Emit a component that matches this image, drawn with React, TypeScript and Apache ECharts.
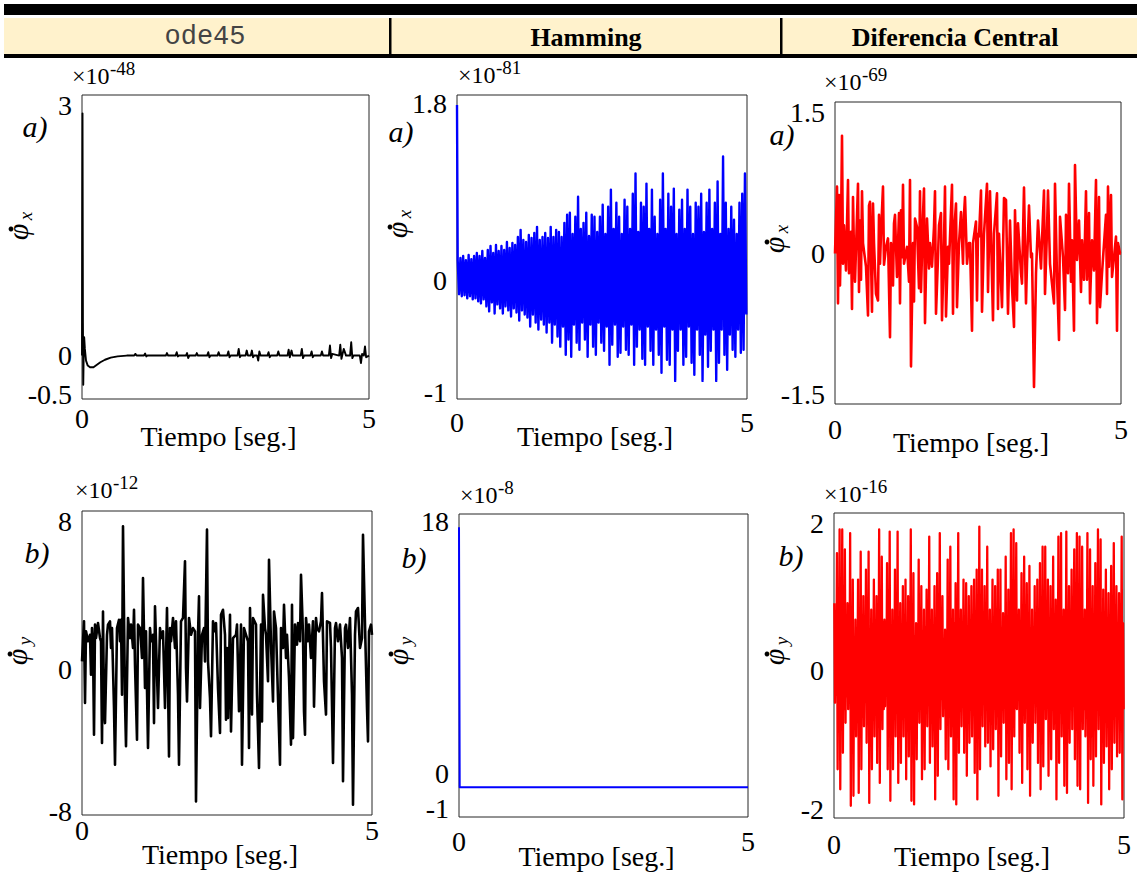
import React, { useEffect, useRef } from "react";
import * as echarts from "echarts";

const SERIF = "'Liberation Serif', 'Times New Roman', serif";
const MONO = "'Liberation Mono', 'Courier New', monospace";

// ---- shared time axis (seconds) ----
const TIME_MIN = 0;
const TIME_MAX = 5;
const TIME_TICK_STEP = 5;
const TIME_LABEL = "Tiempo [seg.]";

// ---- column headers ----
const METHODS = ["ode45", "Hamming", "Diferencia Central"];

// ---- y tick labels per panel ----
const TICKS_ODE45_X = [-0.5, 0, 3];
const TICKS_HAMMING_X = [-1, 0, 1.8];
const TICKS_DC_X = [-1.5, 0, 1.5];
const TICKS_ODE45_Y = [-8, 0, 8];
const TICKS_HAMMING_Y = [-1, 0, 18];
const TICKS_DC_Y = [-2, 0, 2];

// ---- exponents of the y scales ----
const EXPONENTS = ["-48", "-81", "-69", "-12", "-8", "-16"];

// ---- ode45, angular rate x  [t (s), value x1e-48] ----
const ODE45_PHIX: [number, number][] = [
  [0, 0], [0.004, 1.6], [0.009, 2.9], [0.016, 0.4], [0.022, -0.35], [0.03, 0.05], [0.038, 0.22],
  [0.05, 0.08], [0.07, -0.06], [0.1, -0.12], [0.14, -0.14], [0.2, -0.14], [0.26, -0.11], [0.32, -0.08],
  [0.4, -0.05], [0.5, -0.025], [0.62, -0.01], [0.78, 0],
  [0.91, 0], [0.93, 0.02], [0.95, 0], [1.08, 0], [1.1, 0.025], [1.12, -0.01], [1.14, 0],
  [1.46, 0], [1.48, 0.03], [1.5, 0], [1.63, 0], [1.65, 0.04], [1.67, -0.01], [1.69, 0],
  [1.81, 0], [1.83, 0.03], [1.85, -0.03], [1.87, 0], [1.98, 0], [2.0, 0.03], [2.02, 0],
  [2.18, 0], [2.2, 0.04], [2.22, -0.02], [2.24, 0], [2.36, 0], [2.38, 0.04], [2.4, 0],
  [2.53, 0], [2.55, 0.05], [2.57, -0.02], [2.59, 0], [2.71, 0], [2.73, 0.08], [2.75, -0.02], [2.77, 0],
  [2.85, 0], [2.87, 0.06], [2.89, 0], [2.94, 0], [2.96, 0.06], [2.98, -0.02], [3.0, 0],
  [3.05, 0], [3.07, -0.06], [3.09, 0.05], [3.11, 0], [3.23, 0], [3.25, 0.04], [3.27, -0.02], [3.29, 0],
  [3.4, 0], [3.42, 0.05], [3.44, 0], [3.58, 0], [3.6, 0.07], [3.62, -0.02], [3.65, 0.06], [3.67, 0],
  [3.81, 0], [3.83, 0.08], [3.85, -0.03], [3.87, 0], [3.98, 0], [4.0, 0.05], [4.02, -0.02], [4.04, 0],
  [4.16, 0], [4.18, 0.05], [4.2, 0], [4.3, 0], [4.32, 0.12], [4.34, -0.03], [4.36, 0.02],
  [4.48, 0], [4.5, 0.13], [4.52, -0.04], [4.56, 0.08], [4.6, 0], [4.67, 0], [4.69, 0.16], [4.71, -0.03], [4.73, 0],
  [4.84, 0], [4.86, -0.09], [4.88, 0.02], [4.91, 0], [4.93, 0.11], [4.95, -0.02], [5.0, 0],
];

// ---- Hamming, angular rate x (x1e-81): start value, then peak / trough envelopes ----
const HAMMING_PHIX_START = 1.78;
const HAMMING_PHIX_UPPER = [
  0.24, 0.26, 0.28, 0.24, 0.29, 0.25, 0.28, 0.31, 0.28, 0.33, 0.26, 0.34, 0.38, 0.31, 0.39, 0.33, 0.38, 0.34, 0.42, 0.36, 0.41,
  0.39, 0.47, 0.54, 0.44, 0.42, 0.49, 0.46, 0.51, 0.57, 0.44, 0.47, 0.51, 0.46, 0.57, 0.47, 0.54, 0.52, 0.47, 0.61,
  0.69, 0.71, 0.5, 0.67, 0.87, 0.55, 0.61, 0.71, 0.48, 0.69, 0.67, 0.52, 0.67, 0.79, 0.5, 0.77, 0.94, 0.55, 0.81, 0.67,
  0.5, 0.84, 0.77, 0.55, 0.9, 1.1, 0.52, 0.81, 0.77, 1.0, 0.55, 0.94, 0.67, 0.5, 0.84, 1.1, 0.55, 0.9, 0.77, 0.95,
  0.5, 0.74, 0.84, 0.55, 0.94, 0.77, 0.5, 0.81, 0.77, 0.9, 0.52, 0.81, 0.94, 0.55, 0.81, 1.02, 0.5, 1.27, 0.81, 0.55,
  0.77, 0.64, 0.5, 0.81, 0.9, 1.1,
];
const HAMMING_PHIX_LOWER = [
  -0.1, -0.12, -0.11, -0.14, -0.12, -0.15, -0.14, -0.17, -0.19, -0.15, -0.22, -0.27, -0.18, -0.29, -0.2, -0.24, -0.29, -0.22, -0.26, -0.32, -0.24,
  -0.28, -0.36, -0.26, -0.3, -0.33, -0.42, -0.3, -0.38, -0.45, -0.35, -0.4, -0.48, -0.38, -0.58, -0.4, -0.52, -0.62, -0.42, -0.7,
  -0.55, -0.72, -0.4, -0.58, -0.65, -0.38, -0.55, -0.72, -0.4, -0.62, -0.7, -0.38, -0.58, -0.66, -0.42, -0.8, -0.6, -0.4, -0.72, -0.68,
  -0.42, -0.65, -0.7, -0.4, -0.8, -0.62, -0.45, -0.74, -0.8, -0.42, -0.66, -0.8, -0.45, -0.7, -0.88, -0.42, -0.75, -0.8, -0.45, -0.96,
  -0.66, -0.45, -0.8, -0.72, -0.42, -0.78, -0.9, -0.45, -0.7, -0.96, -0.5, -0.82, -0.66, -0.45, -0.96, -0.78, -0.45, -0.7, -0.85, -0.5,
  -0.65, -0.72, -0.45, -0.68, -0.65, -0.3,
];

// ---- central difference, angular rate x  [sample, value x1e-69] ----
const DC_PHIX_STEP = 5 / 286;
const DC_PHIX: [number, number][] = [
  [0, 0], [2, 0.71], [3, -0.53], [4, 0.62], [5, -0.34], [6, 0.25], [7, 1.25], [8, -0.11], [9, 0.3], [11, -0.18],
  [13, 0.78], [14, -0.21], [16, 0.23], [17, -0.59], [18, 0.6], [19, 0], [20, -0.3], [23, 0.74], [24, -0.41], [25, 0.35],
  [26, -0.28], [27, 0.66], [28, 0.11], [31, -0.14], [33, -0.66], [34, 0.51], [35, 0.55], [37, -0.62], [38, 0.53], [39, 0.11],
  [41, -0.43], [43, -0.5], [44, 0.41], [45, -0.11], [46, 0.21], [48, 0.71], [49, -0.12], [51, 0.07], [53, 0.16], [55, -0.89],
  [56, 0.11], [58, -0.34], [59, 0.32], [60, 0.41], [62, -0.25], [64, 0.43], [65, -0.53], [66, 0.46], [67, -0.04], [68, 0.73],
  [69, -0.11], [72, 0.07], [74, -0.3], [75, 0.78], [76, -1.2], [78, 0.11], [79, -0.51], [80, 0.37], [82, 0.28], [84, -0.37],
  [85, 0.66], [86, -0.41], [88, 0.41], [89, 0.69], [90, -0.74], [92, 0.37], [94, -0.16], [95, 0.11], [97, -0.14], [99, 0.28],
  [100, 0.66], [101, -0.64], [103, -0.04], [104, 0.3], [106, 0.43], [107, -0.71], [109, 0.12], [110, 0.71], [111, -0.67], [113, 0.07],
  [114, -0.11], [117, 0.73], [118, -0.64], [119, 0.21], [121, 0.53], [122, -0.57], [124, 0.11], [126, 0.44], [128, -0.11], [129, 0.41],
  [130, 0.6], [132, -0.11], [134, 0.11], [135, 0.11], [137, -0.82], [138, 0.11], [141, 0.34], [142, -0.5], [143, 0.21],
  [144, 0.18], [146, 0.67], [147, -0.62], [149, 0.21], [152, 0.74], [153, -0.41], [155, 0.66], [158, -0.71], [159, 0.21], [162, 0.64],
  [163, -0.59], [164, 0.21], [167, -0.57], [169, 0.59], [171, 0.57], [173, -0.64], [175, 0.35], [177, -0.35], [179, -0.78], [180, 0.46],
  [182, -0.5], [183, 0.32], [186, -0.21], [187, -0.32], [189, 0.7], [191, -0.53], [192, -0.11], [194, 0.51], [196, -0.04], [197, 0],
  [199, -1.42], [201, -0.21], [203, 0.35], [206, -0.16], [207, 0.14], [209, 0.67], [210, -0.43], [212, 0.25], [213, 0.67], [215, -0.11],
  [219, -0.53], [220, 0.74], [222, -0.25], [224, -0.92], [225, 0.39], [228, -0.04], [230, -0.6], [231, 0.41], [233, -0.21], [234, 0.74],
  [236, -0.3], [237, 0.14], [239, -0.82], [240, 0.94], [242, -0.07], [244, 0.35], [246, -0.41], [247, 0.14], [249, -0.28], [251, 0.66],
  [252, -0.28], [254, 0.43], [255, -0.53], [257, 0.14], [259, -0.18], [261, 0.78], [262, -0.74], [264, 0.6], [265, -0.57], [267, -0.21],
  [271, 0.41], [272, -0.43], [273, 0.71], [274, -0.14], [276, 0.62], [277, -0.25], [279, -0.04], [281, 0.18], [282, -0.82], [283, 0.11],
  [285, 0], [286, 0],
];

// ---- ode45, angular rate y  [sample, value x1e-12] ----
const ODE45_PHIY_STEP = 5 / 290;
const ODE45_PHIY: [number, number][] = [
  [0, 0.29], [2, 2.5], [3, -2.01], [4, 1.95], [6, 1.4], [8, 1.76], [9, -0.45], [10, 2.13], [11, 1.21], [12, -3.76],
  [13, 2.32], [14, 1.58], [16, 2.41], [18, 1.58], [19, 1.4], [20, -4.22], [21, 3.05], [22, -2.29], [23, -3.12], [25, 1.76],
  [26, 2.32], [28, 2.5], [29, 1.03], [30, 2.13], [32, -2.29], [33, -5.42], [35, 2.13], [37, 2.59], [38, 1.4], [39, 2.59],
  [40, -1.55], [41, 7.75], [43, -1.92], [44, -4.4], [46, 2.69], [48, 1.58], [49, 2.32], [51, 1.03], [52, 3.14], [53, 0.11],
  [55, -4.04], [56, 2.32], [58, 2.13], [59, 1.4], [60, 0.48], [61, 4.89], [63, -1.18], [64, 1.95], [66, -4.5], [68, 2.13],
  [69, 1.4], [71, 1.76], [72, -3.12], [73, 3.33], [75, -0.45], [76, -2.29], [78, 2.13], [79, 1.58], [81, 1.95], [83, -2.29],
  [85, 3.24], [87, -4.96], [88, 2.13], [89, 1.4], [91, 2.69], [93, 1.03], [94, 2.5], [96, -1.55], [97, -5.42], [99, 2.5],
  [101, 2.69], [103, 5.82], [104, -0.08], [105, -1.92], [107, 2.69], [109, 1.76], [111, 2.13], [113, 1.95], [114, -7.45], [116, 1.76],
  [117, 3.88], [118, -2.29], [120, 1.76], [122, 2.13], [123, 0.29], [125, 7.57], [126, 0.29], [128, -1.74], [129, -3.85], [131, 2.5],
  [133, 1.95], [134, 2.41], [136, -1.18], [138, -3.67], [139, 2.87], [141, 3.14], [143, 1.76], [144, -2.93],
  [145, 1.03], [146, -2.84], [148, 2.87], [149, -3.58], [151, 1.58], [154, 1.76], [155, 2.32], [157, -2.47], [159, 2.32], [160, -5.42],
  [162, 2.13], [164, 1.76], [166, 1.4], [167, -4.5], [168, 3.24], [170, -2.65], [171, 2.69], [174, 2.32], [175, -1.55], [177, -5.6],
  [179, 2.32], [180, -3.03], [181, 3.97], [183, 2.13], [184, 1.76], [186, -0.81], [187, 5.91], [189, 1.21], [191, -1.92], [192, 3.05],
  [194, 2.13], [196, -1.74], [198, -5.42], [199, 2.13], [201, 1.03], [202, 3.42], [204, 0.48], [205, 1.76], [207, -0.63], [209, -4.31],
  [210, 3.42], [211, -3.95], [213, 2.32], [215, 1.21], [216, 2.41], [218, 1.4], [219, 5.08], [221, 1.76], [222, -2.47], [223, -3.76],
  [224, 2.69], [226, 1.4], [227, 2.32], [229, 0.48], [231, 2.5], [232, -2.21], [234, 2.69], [235, 2.13], [237, 1.95], [239, 2.5],
  [240, 4.07], [242, -0.81], [244, -2.65], [245, 2.5], [248, 2.41], [249, 1.03], [251, -5.33], [253, 2.13], [254, 2.41], [256, 1.4],
  [258, 2.32], [260, 0.48], [261, -6.33], [263, 2.13], [264, 2.32], [266, 1.03], [268, 2.69], [270, -1.55], [271, -7.63], [273, 1.76],
  [274, 3.05], [276, 3.24], [278, 1.03], [280, 1.58], [281, 7.29], [283, 2.32], [285, -2.29], [286, -4.13], [287, 1.95], [289, 2.32],
  [290, 1.76],
];

// ---- Hamming, angular rate y  [t (s), value x1e-8] ----
const HAMMING_PHIY: [number, number][] = [
  [0, 17.6], [0.012, -1], [5, -1],
];

// ---- central difference, angular rate y (x1e-16): peaks / troughs, each followed by a small swing ----
const DC_PHIY_UPPER = [
  0.88, 0.42, 1.58, 0.55, 1.91, 0.38, 1.91, 0.6, 1.63, 0.45, 0.88, 0.35, 1.86, 0.52, 1.21, 0.4, 0.65, 0.3, 1.21, 0.48,
  1.6, 0.36, 0.98, 0.58, 1.35, 0.4, 1.6, 0.5, 0.79, 0.33, 1.21, 0.46, 0.98, 0.55, 1.91, 0.38, 1.53, 0.62, 0.65, 0.3,
  1.44, 0.44, 1.88, 0.5, 0.79, 0.36, 1.35, 0.57, 1.88, 0.4, 0.88, 0.34, 1.12, 0.52, 1.21, 0.45, 0.98, 0.38, 1.91, 0.6,
  1.3, 0.42, 0.6, 0.3, 1.49, 0.5, 1.12, 0.36, 0.79, 0.55, 1.07, 0.4, 1.81, 0.48, 0.79, 0.32, 1.12, 0.58, 1.3, 0.4,
  1.86, 0.46, 0.98, 0.35, 0.51, 0.3, 1.49, 0.52, 1.67, 0.4, 0.79, 0.6, 1.16, 0.38, 1.86, 0.5, 0.79, 0.33, 1.21, 0.45,
  1.16, 0.56, 0.98, 0.37, 1.12, 0.48, 1.21, 0.4, 1.35, 0.55, 1.95, 0.35, 1.35, 0.5, 1.12, 0.42, 1.67, 0.6, 0.79, 0.32,
  1.21, 0.46, 1.12, 0.38, 1.35, 0.55, 1.35, 0.4, 0.74, 0.3, 1.53, 0.52, 1.07, 0.44, 1.86, 0.36, 1.91, 0.58, 1.72, 0.4,
  0.79, 0.33, 1.3, 0.5, 1.53, 0.42, 1.16, 0.6, 1.4, 0.36, 0.79, 0.48, 1.12, 0.4, 1.21, 0.55, 1.44, 0.35, 1.67, 0.5,
  1.67, 0.44, 1.21, 0.38, 1.12, 0.56, 1.53, 0.4, 0.93, 0.32, 1.81, 0.5, 1.86, 0.45, 0.79, 0.36, 1.88, 0.58, 1.12, 0.4,
  1.35, 0.48, 1.63, 0.34, 1.86, 0.52, 1.81, 0.42, 1.67, 0.6, 0.79, 0.35, 1.86, 0.46, 1.63, 0.4, 1.12, 0.55, 1.44, 0.38,
  1.91, 0.5, 1.77, 0.42, 1.07, 0.33, 1.35, 0.57, 1.02, 0.4, 1.4, 0.48, 1.72, 0.36, 1.12, 0.52, 1.02, 0.44, 1.81, 0.6,
];
const DC_PHIY_LOWER = [
  -0.51, -0.4, -1.44, -0.55, -1.72, -0.35, -1.21, -0.6, -0.79, -0.42, -0.6, -0.33, -1.95, -0.5, -1.81, -0.38, -0.98, -0.45, -1.77, -0.58,
  -1.44, -0.36, -0.84, -0.5, -1.07, -0.4, -1.91, -0.62, -1.44, -0.34, -0.98, -0.47, -1.35, -0.55, -1.63, -0.38, -0.88, -0.6, -0.56, -0.3,
  -1.44, -0.44, -1.88, -0.52, -1.44, -0.36, -0.98, -0.57, -1.63, -0.4, -1.35, -0.34, -0.98, -0.5, -1.58, -0.45, -1.26, -0.38, -1.88, -0.6,
  -1.93, -0.42, -1.3, -0.33, -0.79, -0.5, -1.58, -0.36, -1.44, -0.55, -0.84, -0.4, -1.35, -0.48, -1.12, -0.32, -1.86, -0.58, -1.53, -0.4,
  -0.88, -0.46, -0.7, -0.35, -1.3, -0.3, -1.44, -0.52, -0.98, -0.4, -1.86, -0.6, -1.93, -0.38, -1.21, -0.5, -0.84, -0.33, -1.21, -0.45,
  -1.53, -0.56, -1.07, -0.37, -0.98, -0.48, -1.49, -0.4, -1.86, -0.55, -1.44, -0.35, -0.84, -0.5, -1.12, -0.42, -1.07, -0.6, -1.4, -0.32,
  -1.16, -0.46, -0.88, -0.38, -1.81, -0.55, -1.26, -0.4, -0.79, -0.3, -1.58, -0.52, -1.35, -0.44, -1.72, -0.36, -0.98, -0.58, -0.6, -0.4,
  -1.21, -0.33, -1.63, -0.5, -0.79, -0.42, -1.44, -0.6, -1.81, -0.36, -1.07, -0.48, -0.79, -0.4, -1.35, -0.55, -1.72, -0.35, -1.4, -0.5,
  -0.74, -0.44, -1.53, -0.38, -1.3, -0.56, -0.88, -0.4, -1.86, -0.32, -1.35, -0.5, -0.98, -0.45, -1.67, -0.36, -1.77, -0.58, -1.07, -0.4,
  -0.88, -0.48, -1.3, -0.34, -1.67, -0.52, -1.72, -0.42, -0.88, -0.6, -0.98, -0.35, -1.91, -0.46, -1.3, -0.4, -1.67, -0.55, -1.26, -0.38,
  -0.88, -0.5, -1.93, -0.42, -1.35, -0.33, -1.12, -0.57, -1.72, -0.4, -1.44, -0.48, -1.07, -0.36, -1.26, -0.52, -1.21, -0.44, -1.86, -0.6,
];

// ---- helpers that turn the arrays above into series data ----
function fromSamples(pairs: [number, number][], step: number): [number, number][] {
  return pairs.map(([k, v]) => [k * step, v]);
}
function fromEnvelopes(upper: number[], lower: number[], start?: number): [number, number][] {
  const pts: [number, number][] = [];
  upper.forEach((v, i) => pts.push([((i + 0.25) * TIME_MAX) / upper.length, v]));
  lower.forEach((v, i) => pts.push([((i + 0.75) * TIME_MAX) / lower.length, v]));
  pts.sort((a, b) => a[0] - b[0]);
  if (start !== undefined) pts.unshift([0, start]);
  return pts;
}

type Panel = {
  grid: { left: number; top: number; width: number; height: number };
  yMin: number;
  yMax: number;
  ticks: number[];
  nudge: Record<string, number>; // tick label nudges (px, + = down) to keep labels apart
  color: string;
  lineWidth: number;
  data: [number, number][];
  xLabelMargin: number;
  nameGap: number;
  exp: string;
  expAt: [number, number];
  tag: string;
  tagAt: [number, number];
  sub: string;
  symAt: [number, number];
};

const PANELS: Panel[] = [
  {
    grid: { left: 82, top: 95, width: 287, height: 304 }, yMin: -0.52, yMax: 3.12, ticks: TICKS_ODE45_X, nudge: { "-0.5": -3 },
    color: "#000000", lineWidth: 1.9, data: ODE45_PHIX, xLabelMargin: 5, nameGap: 23,
    exp: EXPONENTS[0], expAt: [72, 76], tag: "a)", tagAt: [35, 126], sub: "x", symAt: [17, 227],
  },
  {
    grid: { left: 457, top: 95, width: 290, height: 304 }, yMin: -1.14, yMax: 1.88, ticks: TICKS_HAMMING_X,
    nudge: { "-1": 8, "0": -4 },
    color: "#0000FF", lineWidth: 2.4, data: fromEnvelopes(HAMMING_PHIX_UPPER, HAMMING_PHIX_LOWER, HAMMING_PHIX_START),
    xLabelMargin: 9, nameGap: 23,
    exp: EXPONENTS[1], expAt: [458, 75], tag: "a)", tagAt: [401, 131], sub: "x", symAt: [396, 225],
  },
  {
    grid: { left: 835, top: 102, width: 286, height: 302 }, yMin: -1.6, yMax: 1.61, ticks: TICKS_DC_X, nudge: {},
    color: "#FF0000", lineWidth: 2.6, data: fromSamples(DC_PHIX, DC_PHIX_STEP), xLabelMargin: 11, nameGap: 24,
    exp: EXPONENTS[2], expAt: [824, 82], tag: "a)", tagAt: [782, 134], sub: "x", symAt: [773, 240],
  },
  {
    grid: { left: 82, top: 511, width: 290, height: 304 }, yMin: -8.2, yMax: 8.6, ticks: TICKS_ODE45_Y, nudge: { "0": 3 },
    color: "#000000", lineWidth: 2.6, data: fromSamples(ODE45_PHIY, ODE45_PHIY_STEP), xLabelMargin: 1, nameGap: 25,
    exp: EXPONENTS[3], expAt: [75, 490], tag: "b)", tagAt: [37, 552], sub: "y", symAt: [16, 652],
  },
  {
    grid: { left: 459, top: 514, width: 289, height: 303 }, yMin: -3.12, yMax: 18.55, ticks: TICKS_HAMMING_Y, nudge: { "-1": 21 },
    color: "#0000FF", lineWidth: 2, data: HAMMING_PHIY, xLabelMargin: 10, nameGap: 25,
    exp: EXPONENTS[4], expAt: [460, 495], tag: "b)", tagAt: [414, 557], sub: "y", symAt: [397, 652],
  },
  {
    grid: { left: 834, top: 513, width: 290, height: 305 }, yMin: -2.12, yMax: 2.14, ticks: TICKS_DC_Y, nudge: { "0": 4 },
    color: "#FF0000", lineWidth: 2.3, data: fromEnvelopes(DC_PHIY_UPPER, DC_PHIY_LOWER), xLabelMargin: 12, nameGap: 24,
    exp: EXPONENTS[5], expAt: [824, 494], tag: "b)", tagAt: [791, 555], sub: "y", symAt: [773, 652],
  },
];

const LABEL_FONT = { fontFamily: SERIF, fontSize: 28, color: "#000" };

function yLabel(p: Panel) {
  const rich: Record<string, any> = {};
  Object.values(p.nudge).forEach((s) => {
    const key = s > 0 ? `d${s}` : `u${-s}`;
    rich[key] = { ...LABEL_FONT, padding: s > 0 ? [2 * s, 0, 0, 0] : [0, 0, -2 * s, 0] };
  });
  return {
    customValues: p.ticks,
    margin: 10,
    hideOverlap: false,
    showMinLabel: true,
    showMaxLabel: true,
    ...LABEL_FONT,
    rich,
    formatter: (v: number) => {
      const text = String(v);
      const s = p.nudge[text];
      if (!s) return text;
      return s > 0 ? `{d${s}|${text}}` : `{u${-s}|${text}}`;
    },
  };
}

function buildOption() {
  const grid = PANELS.map((p) => ({
    ...p.grid,
    show: true,
    borderColor: "#262626",
    borderWidth: 1,
    backgroundColor: "transparent",
    containLabel: false,
  }));

  const xAxis = PANELS.map((p, i) => ({
    type: "value",
    gridIndex: i,
    min: TIME_MIN,
    max: TIME_MAX,
    interval: TIME_TICK_STEP,
    axisLine: { show: false },
    axisTick: { show: false },
    splitLine: { show: false },
    axisLabel: { margin: p.xLabelMargin, ...LABEL_FONT, showMinLabel: true, showMaxLabel: true },
    name: TIME_LABEL,
    nameLocation: "middle",
    nameGap: p.nameGap,
    nameMoveOverlap: false,
    nameTextStyle: { ...LABEL_FONT, padding: [0, 14, 0, 0] },
  }));

  const yAxis = PANELS.map((p, i) => ({
    type: "value",
    gridIndex: i,
    min: p.yMin,
    max: p.yMax,
    axisLine: { show: false },
    axisTick: { show: false },
    splitLine: { show: false },
    axisLabel: yLabel(p),
  }));

  const series = PANELS.map((p, i) => ({
    type: "line",
    xAxisIndex: i,
    yAxisIndex: i,
    data: p.data,
    showSymbol: false,
    symbol: "none",
    clip: true,
    silent: true,
    lineStyle: { color: p.color, width: p.lineWidth, join: "round" },
    itemStyle: { color: p.color },
  }));

  const graphic: any[] = [
    // header band
    { type: "rect", shape: { x: 4, y: 4, width: 1133, height: 11 }, style: { fill: "#000" } },
    { type: "rect", shape: { x: 4, y: 18, width: 1133, height: 37 }, style: { fill: "#FFF2CC" } },
    { type: "rect", shape: { x: 4, y: 54, width: 1133, height: 4 }, style: { fill: "#000" } },
    { type: "rect", shape: { x: 389, y: 18, width: 2.5, height: 37 }, style: { fill: "#000" } },
    { type: "rect", shape: { x: 780, y: 18, width: 2.5, height: 37 }, style: { fill: "#000" } },
    {
      type: "text", x: 205, y: 37,
      style: { text: METHODS[0], font: `27px ${MONO}`, fill: "#444", align: "center", verticalAlign: "middle" },
    },
    {
      type: "text", x: 586, y: 37,
      style: { text: METHODS[1], font: `bold 26px ${SERIF}`, fill: "#000", align: "center", verticalAlign: "middle" },
    },
    {
      type: "text", x: 955, y: 37,
      style: { text: METHODS[2], font: `bold 26px ${SERIF}`, fill: "#000", align: "center", verticalAlign: "middle" },
    },
  ];

  PANELS.forEach((p) => {
    const [ex, ey] = p.expAt;
    graphic.push({
      type: "text", x: ex, y: ey,
      style: { text: "×10", font: `24px ${SERIF}`, fill: "#000", align: "left", verticalAlign: "middle" },
    });
    graphic.push({
      type: "text", x: ex + 38, y: ey - 8,
      style: { text: p.exp, font: `19px ${SERIF}`, fill: "#000", align: "left", verticalAlign: "middle" },
    });
    graphic.push({
      type: "text", x: p.tagAt[0], y: p.tagAt[1],
      style: { text: p.tag, font: `italic 30px ${SERIF}`, fill: "#000", align: "center", verticalAlign: "middle" },
    });
    // rotated y label: dotted phi with subscript
    graphic.push({
      type: "group",
      x: p.symAt[0],
      y: p.symAt[1],
      rotation: Math.PI / 2,
      children: [
        {
          type: "text", x: -5, y: 0,
          style: { text: "φ", font: `italic 30px ${SERIF}`, fill: "#000", align: "center", verticalAlign: "middle" },
        },
        { type: "circle", shape: { cx: -2, cy: -6, r: 2.4 }, style: { fill: "#000" } },
        {
          type: "text", x: 11, y: 8,
          style: { text: p.sub, font: `italic 19px ${SERIF}`, fill: "#000", align: "center", verticalAlign: "middle" },
        },
      ],
    });
  });

  return {
    animation: false,
    backgroundColor: "#ffffff",
    grid,
    xAxis,
    yAxis,
    series,
    graphic,
  };
}

export default function App() {
  const ref = useRef<HTMLDivElement | null>(null);
  useEffect(() => {
    if (!ref.current) return;
    const chart = echarts.init(ref.current, undefined, { renderer: "svg" });
    chart.setOption(buildOption() as any);
    return () => chart.dispose();
  }, []);
  return (
    <div
      ref={ref}
      style={{ position: "absolute", left: 0, top: 0, width: 1137, height: 872, background: "#fff" }}
    />
  );
}
